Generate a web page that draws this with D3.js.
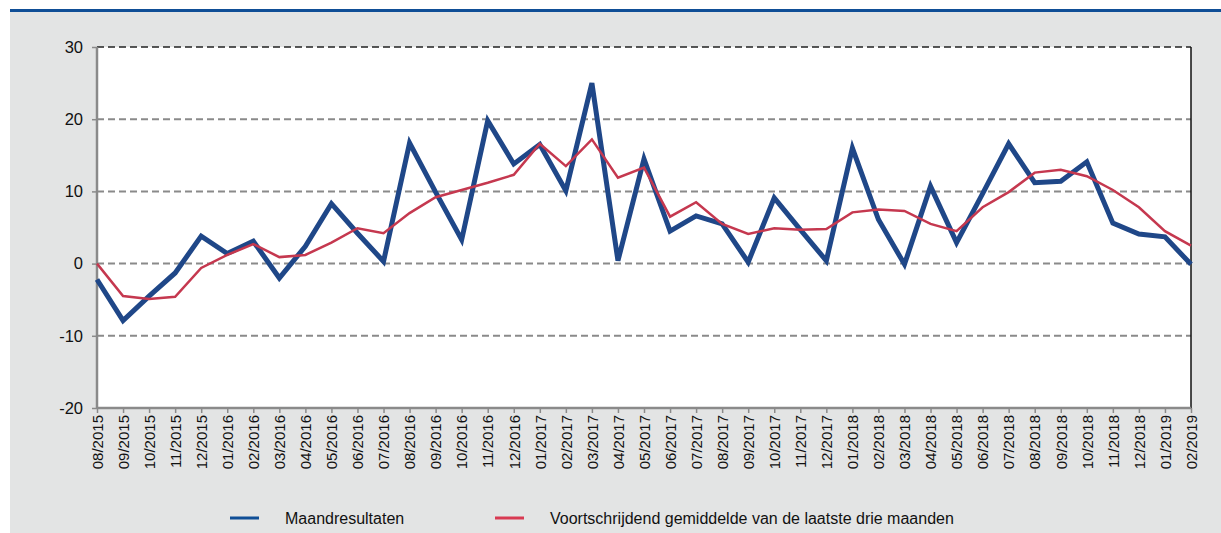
<!DOCTYPE html>
<html>
<head>
<meta charset="utf-8">
<script src="https://cdn.jsdelivr.net/npm/d3@7"></script>
<style>
  body { margin: 0; background: #fff; }
  svg text { font-family: "Liberation Sans", Arial, sans-serif; fill: #111; }
</style>
</head>
<body>
<svg id="chart" width="1221" height="533"></svg>
<script>
// months on the x axis
var months = ["08/2015","09/2015","10/2015","11/2015","12/2015",
  "01/2016","02/2016","03/2016","04/2016","05/2016","06/2016","07/2016","08/2016","09/2016","10/2016","11/2016","12/2016",
  "01/2017","02/2017","03/2017","04/2017","05/2017","06/2017","07/2017","08/2017","09/2017","10/2017","11/2017","12/2017",
  "01/2018","02/2018","03/2018","04/2018","05/2018","06/2018","07/2018","08/2018","09/2018","10/2018","11/2018","12/2018",
  "01/2019","02/2019"];

// monthly results
var maandresultaten = [-2.2, -7.9, -4.5, -1.3, 3.8,
  1.4, 3.1, -2.0, 2.4, 8.3, 4.2, 0.3, 16.7, 9.9, 3.3, 19.8, 13.8,
  16.5, 10.1, 25.0, 0.4, 14.5, 4.5, 6.6, 5.5, 0.2, 9.1, 4.7, 0.4,
  16.0, 6.1, -0.1, 10.7, 2.9, 9.7, 16.6, 11.2, 11.4, 14.1, 5.6, 4.1,
  3.7, -0.1];

// moving average of last three months
var gemiddelde = [0, -4.5, -4.9, -4.6, -0.6,
  1.2, 2.7, 0.9, 1.2, 2.9, 4.9, 4.2, 7.0, 9.2, 10.2, 11.2, 12.3,
  16.6, 13.5, 17.2, 11.9, 13.3, 6.5, 8.5, 5.5, 4.1, 4.9, 4.7, 4.8,
  7.1, 7.5, 7.3, 5.5, 4.5, 7.8, 9.9, 12.6, 13.0, 12.1, 10.2, 7.8,
  4.5, 2.5];

var yTicks = [-20, -10, 0, 10, 20, 30];

var legendItems = [
  { label: "Maandresultaten", color: "#1f4788" },
  { label: "Voortschrijdend gemiddelde van de laatste drie maanden", color: "#c5384f" }
];

var svg = d3.select("#chart");
var plotL = 97, plotR = 1191, plotT = 47, plotB = 408;

// panel background and top rule
svg.append("rect").attr("x", 10).attr("y", 10).attr("width", 1211).attr("height", 523).attr("fill", "#e3e4e4");
svg.append("rect").attr("x", 10).attr("y", 9).attr("width", 1211).attr("height", 3).attr("fill", "#0f4e96");

svg.append("rect")
  .attr("x", plotL).attr("y", plotT)
  .attr("width", plotR - plotL).attr("height", plotB - plotT)
  .attr("fill", "#fff");

var x = d3.scalePoint().domain(months).range([plotL, plotR]);
var y = d3.scaleLinear().domain([-20, 30]).range([plotB, plotT]);

// gridlines
svg.append("g").selectAll("line")
  .data(yTicks.filter(function(d) { return d > -20; }))
  .enter().append("line")
  .attr("x1", plotL).attr("x2", plotR)
  .attr("y1", function(d) { return y(d); })
  .attr("y2", function(d) { return y(d); })
  .attr("stroke", function(d) { return d == 30 ? "#222" : "#8a8a8a"; })
  .attr("stroke-width", function(d) { return d == 30 ? 1.5 : 2; })
  .attr("stroke-dasharray", "7,4");

// right border
svg.append("line").attr("x1", plotR).attr("x2", plotR).attr("y1", plotT).attr("y2", plotB)
  .attr("stroke", "#111").attr("stroke-width", 1.5);

// y axis (plain hyphen for negatives, as in the original)
var yAxis = svg.append("g")
  .attr("transform", "translate(" + plotL + ",0)")
  .call(d3.axisLeft(y).tickValues(yTicks).tickFormat(function(d) { return String(d); })
    .tickSize(5).tickPadding(9));
yAxis.selectAll("text").style("font-size", "16.5px").attr("fill", "#111");

// x axis
var xAxis = svg.append("g")
  .attr("transform", "translate(0," + plotB + ")")
  .call(d3.axisBottom(x).tickSize(5).tickPadding(4));
xAxis.selectAll("text")
  .style("font-size", "15px")
  .attr("fill", "#111")
  .attr("transform", "rotate(-90)")
  .attr("text-anchor", "end")
  .attr("x", -7)
  .attr("y", 0)
  .attr("dy", "0.35em");

svg.selectAll(".domain").attr("stroke", "#8a8a8a").attr("stroke-width", 2.5);
svg.selectAll(".tick line").attr("stroke", "#8a8a8a").attr("stroke-width", 1.5);
yAxis.select(".domain").attr("d", "M0," + plotB + "V" + plotT);
xAxis.select(".domain").attr("d", "M" + plotL + ",0H" + plotR);

// lines
var line = d3.line()
  .x(function(d, i) { return x(months[i]); })
  .y(function(d) { return y(d); });

svg.append("path").datum(maandresultaten)
  .attr("d", line).attr("fill", "none")
  .attr("stroke", legendItems[0].color).attr("stroke-width", 5)
  .attr("stroke-linejoin", "miter");

svg.append("path").datum(gemiddelde)
  .attr("d", line).attr("fill", "none")
  .attr("stroke", legendItems[1].color).attr("stroke-width", 2.5);

// legend
var legendX = [230, 495];
var lg = svg.append("g").selectAll("g").data(legendItems).enter().append("g")
  .attr("transform", function(d, i) { return "translate(" + legendX[i] + ",518)"; });
lg.append("line").attr("x1", 0).attr("x2", 29).attr("y1", 0).attr("y2", 0)
  .attr("stroke", function(d, i) { return i == 0 ? "#0f4e96" : "#d83a52"; })
  .attr("stroke-width", 3);
lg.append("text").attr("x", 55).attr("y", 0).attr("dy", "0.35em")
  .style("font-size", "16px")
  .text(function(d) { return d.label; });
</script>
</body>
</html>
